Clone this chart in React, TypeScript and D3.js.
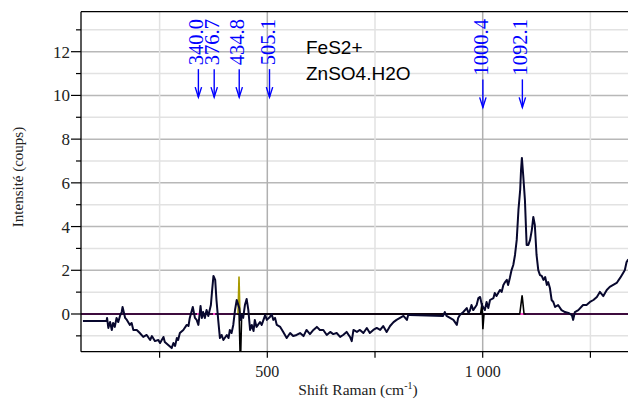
import React from "react";
import * as d3 from "d3";

// Raman spectrum (shift cm-1, intensity)
const spectrum: [number, number][] = [
  [72, -0.32], [127, -0.32], [128, -0.18], [131, -0.64], [135, -0.37], [139, -0.73], [142, -0.41], [146, -0.59],
  [150, -0.18], [154, -0.37], [158, -0.09], [162, 0.09], [164, 0.32], [170, -0.18], [174, -0.27], [181, -0.5],
  [185, -0.41], [189, -0.73], [197, -0.73], [204, -0.87], [212, -1.05], [220, -0.96], [228, -1.19], [232, -1.01],
  [239, -1.24], [247, -1.19], [251, -1.33], [259, -1.05], [262, -1.28], [270, -1.42], [278, -1.56], [282, -1.33],
  [286, -1.46], [290, -1.1], [293, -1.19], [297, -0.87], [305, -0.73], [313, -0.5], [317, -0.55], [320, -0.18],
  [327, 0.32], [332, -0.18], [336, -0.27], [340, -0.5], [344, 0.18], [345, 0.37], [348, -0.18], [351, 0.09],
  [355, -0.18], [359, 0.18], [363, -0.09], [369, 0.41], [372, 1.1], [375, 1.74], [379, 1.56], [382, 0.64],
  [386, -0.27], [390, -1.1], [394, -0.96], [398, -1.19], [406, -0.96], [410, -1.1], [413, -0.73], [417, -0.87],
  [421, -0.5], [425, 0.18], [429, 0.64], [435, 0.27], [438, -0.27], [441, -0.05], [444, -0.18], [448, 0.41],
  [452, 0.69], [456, 0.18], [460, -0.73], [464, -0.5], [468, -0.78], [471, -0.27], [475, -0.59], [483, -0.37],
  [487, -0.5], [495, -0.05], [499, -0.27], [506, -0.14], [510, 0.0], [514, -0.27], [518, -0.18], [522, -0.5],
  [530, -0.59], [537, -0.82], [541, -0.96], [545, -1.1], [553, -0.87], [560, -1.01], [568, -0.96], [576, -0.87],
  [584, -1.01], [591, -0.73], [599, -0.92], [607, -0.73], [615, -0.59], [622, -0.73], [630, -0.73], [638, -0.96],
  [646, -0.82], [653, -0.92], [661, -0.87], [669, -1.05], [676, -0.96], [684, -0.82], [692, -1.05], [696, -1.24],
  [700, -0.73], [708, -0.82], [715, -0.73], [723, -0.87], [731, -0.64], [738, -0.87], [746, -0.73], [754, -0.64],
  [762, -0.73], [769, -0.55], [777, -0.82], [785, -0.55], [793, -0.37], [800, -0.27], [808, -0.18], [816, -0.09],
  [824, -0.27], [827, -0.05], [831, -0.05], [908, -0.09], [912, 0.09], [916, -0.09], [924, -0.18], [932, -0.27],
  [940, -0.5], [943, -0.18], [947, -0.05], [955, 0.09], [963, 0.27], [967, 0.05], [970, 0.14], [974, 0.41],
  [978, 0.18], [986, 0.41], [990, 0.73], [994, 0.78], [998, 0.41], [1005, 0.18], [1009, 0.55], [1013, 0.27],
  [1017, 0.64], [1025, 0.73], [1028, 0.96], [1032, 0.82], [1040, 1.1], [1044, 1.01], [1048, 1.33], [1052, 1.46],
  [1056, 1.56], [1059, 1.33], [1063, 1.65], [1067, 2.01], [1071, 2.24], [1075, 2.7], [1079, 3.39], [1083, 4.76],
  [1087, 5.68], [1089, 6.59], [1091, 7.14], [1094, 6.36], [1098, 5.22], [1102, 3.16], [1106, 3.16], [1110, 3.39],
  [1114, 3.84], [1117.5, 4.44], [1121, 4.07], [1125, 2.7], [1129, 2.01], [1133, 1.78], [1137, 1.74], [1141, 1.56],
  [1145, 1.69], [1149, 1.33], [1152, 1.46], [1156, 1.19], [1160, 0.64], [1164, 0.55], [1168, 0.32], [1175, 0.41],
  [1183, 0.18], [1191, 0.09], [1199, 0.05], [1207, -0.05], [1210, -0.27], [1214, 0.09], [1222, 0.18], [1233, 0.41],
  [1241, 0.41], [1249, 0.55], [1257, 0.64], [1265, 0.78], [1272, 1.01], [1280, 0.82], [1288, 1.1], [1295, 1.24],
  [1303, 1.33], [1311, 1.42], [1319, 1.65], [1326, 1.88], [1330, 2.01], [1334, 2.38], [1338, 2.5],
];

// fitted components (near the baseline)
const fitBlack: [number, number][] = [
  [430, 0], [434.5, 0], [437.5, -2.4], [440.5, 0],
  [995, 0], [998.5, 0.5], [1000.4, -0.7], [1003, 0],
  [1082, 0], [1086, 0], [1091.5, 0.85], [1096, 0], [1100, 0],
];
const fitOlive: [number, number][] = [[432, 0], [434.3, 1.72], [436.5, 0]];
const pinkMarks: [number, number][] = [[337, 342], [374, 379], [1086, 1097]];

// annotations
const peakLabels = ["340.0", "376.7", "434.8", "505.1", "1000.4", "1092.1"];
const peakPositions = [340.0, 376.7, 434.8, 505.1, 1000.4, 1092.1];

const xMajorTicks = [500, 1000];
const xMajorLabels = ["500", "1 000"];
const xMinorTicks = [250, 750, 1250];
const yMajorTicks = [0, 2, 4, 6, 8, 10, 12];
const yMinorTicks = [-1, 1, 3, 5, 7, 9, 11, 13];

const W = 628, H = 402;
const L = 81, R = 628, T = 11.7, B = 351.7;

export default function App() {
  const x = d3.scaleLinear().domain([67.5, 1337.3]).range([L, R]);
  const y = d3.scaleLinear().domain([-1.725, 13.83]).range([B, T]);
  const line = d3.line<[number, number]>().x((d) => x(d[0])).y((d) => y(d[1]));
  const serif = "'Liberation Serif', 'Times New Roman', serif";
  const fs = 20.5;
  const labLen = (s: string) =>
    s.split("").reduce((a, c) => a + (c === "." ? 0.25 : 0.5), 0) * fs;

  return (
    <svg width={W} height={H} style={{ position: "absolute", left: 0, top: 0, background: "#fff" }}>
      <defs>
        <clipPath id="plot">
          <rect x={L} y={T} width={R - L + 20} height={B - T} />
        </clipPath>
      </defs>
      {/* grid */}
      {yMinorTicks.map((t) => (
        <line key={"ym" + t} x1={L} x2={W + 10} y1={y(t)} y2={y(t)} stroke="#e2e2e2" strokeWidth={1.5} />
      ))}
      {yMajorTicks.map((t) => (
        <line key={"yM" + t} x1={L} x2={W + 10} y1={y(t)} y2={y(t)} stroke="#b8b8b8" strokeWidth={1.5} />
      ))}
      {xMinorTicks.map((t) => (
        <line key={"xm" + t} x1={x(t)} x2={x(t)} y1={T} y2={B} stroke="#e2e2e2" strokeWidth={1.5} />
      ))}
      {xMajorTicks.map((t) => (
        <line key={"xM" + t} x1={x(t)} x2={x(t)} y1={T} y2={B} stroke="#b0b0b0" strokeWidth={1.5} />
      ))}
      <g clipPath="url(#plot)">
        {/* baseline */}
        <line x1={L} x2={W + 10} y1={y(0)} y2={y(0)} stroke="#3d0c3d" strokeWidth={2} />
        {pinkMarks.map((p, i) => (
          <line key={"pk" + i} x1={x(p[0])} x2={x(p[1])} y1={y(0)} y2={y(0)} stroke="#ff44cc" strokeWidth={2} />
        ))}
        <path d={line(fitOlive) || ""} fill="none" stroke="#a89a00" strokeWidth={1.6} />
        <path d={line(fitBlack) || ""} fill="none" stroke="#000" strokeWidth={1.6} />
        <path d={line(spectrum) || ""} fill="none" stroke="#08082e" strokeWidth={2} strokeLinejoin="round" />
      </g>
      {/* frame */}
      <line x1={L} x2={W + 10} y1={T} y2={T} stroke="#000" strokeWidth={1.3} />
      <line x1={L} x2={W + 10} y1={B} y2={B} stroke="#000" strokeWidth={1.3} />
      <line x1={L} x2={L} y1={T} y2={B} stroke="#000" strokeWidth={1.3} />
      {/* y axis ticks */}
      {yMajorTicks.map((t) => (
        <g key={"yt" + t}>
          <line x1={L - 10} x2={L} y1={y(t)} y2={y(t)} stroke="#000" strokeWidth={1.2} />
          <text x={L - 11} y={y(t)} dy="0.35em" textAnchor="end" fontFamily={serif} fontSize={17} fill="#222">
            {t}
          </text>
        </g>
      ))}
      {yMinorTicks.map((t) => (
        <line key={"ymt" + t} x1={L - 5} x2={L} y1={y(t)} y2={y(t)} stroke="#000" strokeWidth={1.2} />
      ))}
      {/* x axis ticks */}
      {xMajorTicks.map((t, i) => (
        <g key={"xt" + t}>
          <line x1={x(t)} x2={x(t)} y1={B} y2={B + 6} stroke="#000" strokeWidth={1.2} />
          <text x={x(t)} y={377} textAnchor="middle" fontFamily={serif} fontSize={16} fill="#222">
            {xMajorLabels[i]}
          </text>
        </g>
      ))}
      {xMinorTicks.map((t) => (
        <line key={"xmt" + t} x1={x(t)} x2={x(t)} y1={B} y2={B + 6} stroke="#000" strokeWidth={1.2} />
      ))}
      {/* axis titles */}
      <text x={358} y={395} textAnchor="middle" fontFamily={serif} fontSize={15.5} fill="#222">
        Shift Raman (cm
        <tspan fontSize={10} dy={-6}>-1</tspan>
        <tspan dy={6}>)</tspan>
      </text>
      <text transform="translate(23,177) rotate(-90)" textAnchor="middle" fontFamily={serif} fontSize={15} fill="#222">
        Intensité (coups)
      </text>
      {/* peak annotations */}
      {peakLabels.map((lab, i) => {
        const px = x(peakPositions[i]);
        const len = labLen(lab);
        const a0 = 19 + len + 4;
        const a1 = a0 + 28;
        return (
          <g key={"pl" + i}>
            <text
              transform={`translate(${px + 5},19) rotate(-90)`}
              textAnchor="end"
              fontFamily={serif}
              fontSize={fs}
              fill="#0000ff"
            >
              {lab}
            </text>
            <line x1={px} x2={px} y1={a0} y2={a1} stroke="#0000ff" strokeWidth={1.4} />
            <path
              d={`M${px - 3.2},${a1 - 10} L${px},${a1} L${px + 3.2},${a1 - 10}`}
              fill="none"
              stroke="#0000ff"
              strokeWidth={1.4}
            />
          </g>
        );
      })}
      {/* sample label */}
      <text x={306} y={54} fontFamily="'Liberation Sans', Arial, sans-serif" fontSize={19} fill="#000">
        FeS2+
      </text>
      <text x={306} y={80} fontFamily="'Liberation Sans', Arial, sans-serif" fontSize={19} fill="#000">
        ZnSO4.H2O
      </text>
    </svg>
  );
}
